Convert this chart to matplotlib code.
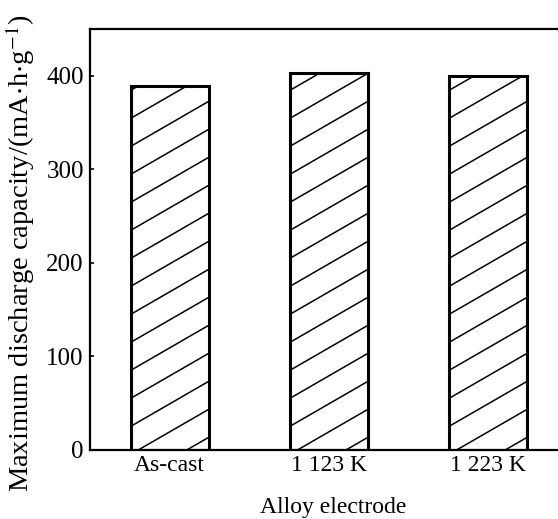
import numpy as np
import matplotlib
matplotlib.use('Agg')
import matplotlib.pyplot as plt
from matplotlib.collections import LineCollection

# --- data ---
electrodes = ['As-cast', '1 123 K', '1 223 K']
capacity = [389, 403, 400]          # mAh/g
y_ticks = [0, 100, 200, 300, 400]

plt.rcParams['font.family'] = ['Liberation Serif', 'DejaVu Serif']
plt.rcParams['mathtext.fontset'] = 'stix'

fig = plt.figure(figsize=(5.58, 5.19), dpi=100)
ax = fig.add_axes([90 / 558, (519 - 450) / 519, 1 - 90 / 558, (450 - 29) / 519])

x = np.arange(len(electrodes))
# white faces underneath, outlines drawn again on top of the hatching
bars = ax.bar(x, capacity, width=0.49, color='white', edgecolor='none', zorder=2)
ax.bar(x, capacity, width=0.49, fill=False, edgecolor='black', linewidth=2.2, zorder=4)

ax.set_xlim(-0.5, 2.44)
ax.set_ylim(0, 450)

# --- custom 30 degree hatching, clipped to each bar ---
fig.canvas.draw()
px_x = ax.transData.transform([(1, 0)])[0][0] - ax.transData.transform([(0, 0)])[0][0]
px_y = ax.transData.transform([(0, 100)])[0][1] - ax.transData.transform([(0, 0)])[0][1]
px_y /= 100.0
slope = np.tan(np.radians(30)) * px_x / px_y   # y data units per x unit
step = 28 / px_y                                # vertical spacing in data units
for b in bars:
    x0 = b.get_x()
    x1 = x0 + b.get_width()
    h = b.get_height()
    segs = []
    c = -slope * (x1 - x0) + 0.45 * step
    while c < h:
        segs.append([(x0, c), (x1, c + slope * (x1 - x0))])
        c += step
    lc = LineCollection(segs, colors='black', linewidths=1.1, zorder=3)
    ax.add_collection(lc)
    lc.set_clip_path(b)

ax.set_yticks(y_ticks)
ax.set_xticks(x)
ax.set_xticklabels(electrodes)
ax.tick_params(axis='y', direction='in', length=3, width=1.2, pad=4.5, labelsize=18)
ax.tick_params(axis='x', length=0, pad=3.5, labelsize=17)

for s in ['left', 'bottom', 'top']:
    ax.spines[s].set_linewidth(1.6)
ax.spines['right'].set_visible(False)

ax.set_xlabel('Alloy electrode', fontsize=17)
ax.xaxis.set_label_coords((333 - 90) / 468, (450 - 497) / 421)
ax.set_ylabel('Maximum discharge capacity/(mA$\\cdot$h$\\cdot$g$^{-1}$)', fontsize=20.5)
ax.yaxis.set_label_coords(-(90 - 37) / 468, (450 - 253) / 421)

fig.savefig('out.png', dpi=100)
